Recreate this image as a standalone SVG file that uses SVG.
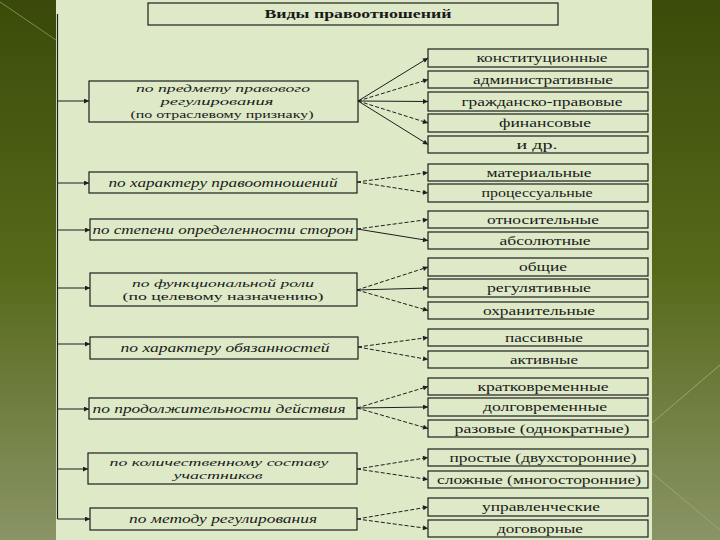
<svg xmlns="http://www.w3.org/2000/svg" width="720" height="540" viewBox="0 0 720 540">
<defs>
<linearGradient id="bg" x1="0" y1="0" x2="0" y2="1">
<stop offset="0" stop-color="#3b4c0a"/>
<stop offset="0.5" stop-color="#56691a"/>
<stop offset="1" stop-color="#8a9466"/>
</linearGradient>
<marker id="ah" viewBox="0 0 10 10" refX="10" refY="5" markerWidth="7" markerHeight="5" orient="auto" markerUnits="userSpaceOnUse">
<path d="M0,0 L10,5 L0,10 Z" fill="#1e1e1e"/>
</marker>
<style>
.box{fill:none;stroke:#1e1e1e;stroke-width:1.2}
.t{font-family:"Liberation Serif","Times New Roman",serif;font-size:13px;fill:#1a1a1a;text-anchor:middle}
.s{font-size:11px}
.i{font-style:italic}
.b{font-weight:bold;font-size:13px}
.c{fill:none;stroke:#1e1e1e;stroke-width:1;marker-end:url(#ah)}
.d{stroke-dasharray:4 2}
</style>
</defs>
<rect width="720" height="540" fill="url(#bg)"/>
<polygon points="0,0 56,0 56,40" fill="#3a4a0a" opacity="0.6"/>
<line x1="0" y1="2" x2="56" y2="40" stroke="#7d8c4a" stroke-width="1"/>
<line x1="652" y1="423" x2="720" y2="365" stroke="#9aa676" stroke-width="1"/>
<line x1="652" y1="473" x2="720" y2="530" stroke="#9aa676" stroke-width="1"/>
<rect x="56" y="0" width="596" height="540" fill="#dde9c7"/>

<g id="title"><rect class="box" x="148" y="3" width="410" height="22"/><text class="t b" x="358" y="18" textLength="187" lengthAdjust="spacingAndGlyphs">Виды правоотношений</text></g>

<g id="l1"><rect class="box" x="89" y="81" width="269" height="41"/>
<text class="t s i" x="223" y="91.5" textLength="174" lengthAdjust="spacingAndGlyphs">по предмету правового</text>
<text class="t s i" x="217" y="104.5" textLength="113" lengthAdjust="spacingAndGlyphs">регулирования</text>
<text class="t s" x="222" y="117.5" textLength="183" lengthAdjust="spacingAndGlyphs">(по отраслевому признаку)</text></g>
<g id="l2"><rect class="box" x="89" y="172" width="268" height="21"/><text class="t i" x="223" y="187" textLength="229" lengthAdjust="spacingAndGlyphs">по характеру правоотношений</text></g>
<g id="l3"><rect class="box" x="90" y="219" width="267" height="21"/><text class="t i" x="223" y="234" textLength="261" lengthAdjust="spacingAndGlyphs">по степени определенности сторон</text></g>
<g id="l4"><rect class="box" x="90" y="273" width="267" height="33"/>
<text class="t s i" x="223" y="286.5" textLength="182" lengthAdjust="spacingAndGlyphs">по функциональной роли</text>
<text class="t s" x="223" y="299.5" textLength="201" lengthAdjust="spacingAndGlyphs">(по целевому назначению)</text></g>
<g id="l5"><rect class="box" x="90" y="337" width="268" height="22"/><text class="t i" x="225" y="352" textLength="209" lengthAdjust="spacingAndGlyphs">по характеру обязанностей</text></g>
<g id="l6"><rect class="box" x="89" y="398" width="268" height="21"/><text class="t i" x="219" y="413" textLength="253" lengthAdjust="spacingAndGlyphs">по продолжительности действия</text></g>
<g id="l7"><rect class="box" x="88" y="453" width="269" height="31"/>
<text class="t s i" x="219" y="465.5" textLength="219" lengthAdjust="spacingAndGlyphs">по количественному составу</text>
<text class="t s i" x="218" y="478.5" textLength="89" lengthAdjust="spacingAndGlyphs">участников</text></g>
<g id="l8"><rect class="box" x="90" y="508" width="267" height="22"/><text class="t i" x="223" y="523" textLength="188" lengthAdjust="spacingAndGlyphs">по методу регулирования</text></g>

<g id="r1"><rect class="box" x="428" y="49" width="220" height="18"/><text class="t" x="542" y="62" textLength="131" lengthAdjust="spacingAndGlyphs">конституционные</text></g>
<g id="r2"><rect class="box" x="428" y="71" width="220" height="17"/><text class="t" x="543" y="84" textLength="140" lengthAdjust="spacingAndGlyphs">административные</text></g>
<g id="r3"><rect class="box" x="428" y="92" width="220" height="19"/><text class="t" x="542" y="106" textLength="161" lengthAdjust="spacingAndGlyphs">гражданско-правовые</text></g>
<g id="r4"><rect class="box" x="428" y="114" width="220" height="18"/><text class="t" x="545" y="127" textLength="92" lengthAdjust="spacingAndGlyphs">финансовые</text></g>
<g id="r5"><rect class="box" x="428" y="136" width="220" height="17"/><text class="t" x="537" y="149" textLength="41" lengthAdjust="spacingAndGlyphs">и др.</text></g>
<g id="r6"><rect class="box" x="428" y="164" width="220" height="17"/><text class="t" x="539" y="177" textLength="105" lengthAdjust="spacingAndGlyphs">материальные</text></g>
<g id="r7"><rect class="box" x="428" y="184" width="220" height="18"/><text class="t" x="537" y="197" textLength="111" lengthAdjust="spacingAndGlyphs">процессуальные</text></g>
<g id="r8"><rect class="box" x="428" y="211" width="220" height="17"/><text class="t" x="543" y="224" textLength="112" lengthAdjust="spacingAndGlyphs">относительные</text></g>
<g id="r9"><rect class="box" x="428" y="232" width="220" height="17"/><text class="t" x="545" y="245" textLength="91" lengthAdjust="spacingAndGlyphs">абсолютные</text></g>
<g id="r10"><rect class="box" x="428" y="258" width="220" height="18"/><text class="t" x="543" y="271" textLength="48" lengthAdjust="spacingAndGlyphs">общие</text></g>
<g id="r11"><rect class="box" x="428" y="279" width="220" height="18"/><text class="t" x="539" y="292" textLength="104" lengthAdjust="spacingAndGlyphs">регулятивные</text></g>
<g id="r12"><rect class="box" x="428" y="302" width="220" height="17"/><text class="t" x="539" y="315" textLength="112" lengthAdjust="spacingAndGlyphs">охранительные</text></g>
<g id="r13"><rect class="box" x="428" y="329" width="220" height="17"/><text class="t" x="544" y="342" textLength="78" lengthAdjust="spacingAndGlyphs">пассивные</text></g>
<g id="r14"><rect class="box" x="428" y="351" width="220" height="17"/><text class="t" x="544" y="364" textLength="68" lengthAdjust="spacingAndGlyphs">активные</text></g>
<g id="r15"><rect class="box" x="428" y="378" width="220" height="17"/><text class="t" x="543" y="391" textLength="131" lengthAdjust="spacingAndGlyphs">кратковременные</text></g>
<g id="r16"><rect class="box" x="428" y="398" width="220" height="18"/><text class="t" x="545" y="411" textLength="124" lengthAdjust="spacingAndGlyphs">долговременные</text></g>
<g id="r17"><rect class="box" x="428" y="420" width="220" height="17"/><text class="t" x="542" y="433" textLength="175" lengthAdjust="spacingAndGlyphs">разовые (однократные)</text></g>
<g id="r18"><rect class="box" x="428" y="449" width="220" height="17"/><text class="t" x="543" y="462" textLength="187" lengthAdjust="spacingAndGlyphs">простые (двухсторонние)</text></g>
<g id="r19"><rect class="box" x="428" y="471" width="220" height="17"/><text class="t" x="539" y="484" textLength="204" lengthAdjust="spacingAndGlyphs">сложные (многосторонние)</text></g>
<g id="r20"><rect class="box" x="428" y="498" width="220" height="18"/><text class="t" x="541" y="511" textLength="118" lengthAdjust="spacingAndGlyphs">управленческие</text></g>
<g id="r21"><rect class="box" x="428" y="520" width="220" height="17"/><text class="t" x="540" y="533" textLength="86" lengthAdjust="spacingAndGlyphs">договорные</text></g>

<g id="connectors">
<line x1="57.5" y1="14" x2="57.5" y2="519" stroke="#1e1e1e" stroke-width="1.2"/>
<line class="c" x1="57.5" y1="101" x2="89" y2="101"/>
<line class="c" x1="57.5" y1="183" x2="89" y2="183"/>
<line class="c" x1="57.5" y1="230" x2="90" y2="230"/>
<line class="c" x1="57.5" y1="288" x2="90" y2="288"/>
<line class="c" x1="57.5" y1="344" x2="90" y2="344"/>
<line class="c" x1="57.5" y1="409" x2="89" y2="409"/>
<line class="c" x1="57.5" y1="469" x2="88" y2="469"/>
<line class="c" x1="57.5" y1="519" x2="90" y2="519"/>

<line class="c" x1="358" y1="101" x2="428" y2="58"/>
<line class="c d" x1="358" y1="101" x2="428" y2="79.5"/>
<line class="c" x1="358" y1="101" x2="428" y2="101.5"/>
<line class="c d" x1="358" y1="101" x2="428" y2="123"/>
<line class="c" x1="358" y1="101" x2="428" y2="144.5"/>

<line class="c d" x1="357" y1="182" x2="428" y2="172.5"/>
<line class="c d" x1="357" y1="182" x2="428" y2="193"/>

<line class="c d" x1="357" y1="229" x2="428" y2="219.5"/>
<line class="c" x1="357" y1="229" x2="428" y2="240.5"/>

<line class="c d" x1="357" y1="290" x2="428" y2="267"/>
<line class="c" x1="357" y1="290" x2="428" y2="288"/>
<line class="c d" x1="357" y1="290" x2="428" y2="310.5"/>

<line class="c d" x1="358" y1="347" x2="428" y2="337.5"/>
<line class="c d" x1="358" y1="347" x2="428" y2="359.5"/>

<line class="c d" x1="357" y1="408" x2="428" y2="386.5"/>
<line class="c" x1="357" y1="408" x2="428" y2="407"/>
<line class="c d" x1="357" y1="408" x2="428" y2="428.5"/>

<line class="c d" x1="357" y1="469" x2="428" y2="457.5"/>
<line class="c d" x1="357" y1="469" x2="428" y2="479.5"/>

<line class="c d" x1="357" y1="519" x2="428" y2="507"/>
<line class="c d" x1="357" y1="519" x2="428" y2="528.5"/>
</g>
</svg>
